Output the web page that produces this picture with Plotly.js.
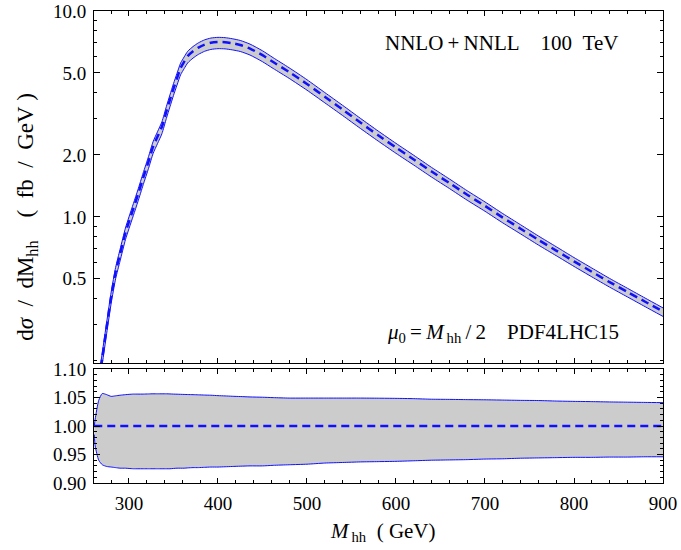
<!DOCTYPE html>
<html>
<head>
<meta charset="utf-8">
<script src="https://cdn.plot.ly/plotly-3.0.1.min.js"></script>
<style>html,body{margin:0;padding:0;background:#fff;}#chart{width:681px;height:550px;}</style>
</head>
<body>
<div id="chart"></div>
<script>
// Invariant mass grid (GeV)
const mhh = [261, 262, 266, 270, 275, 280, 285, 290, 296, 300, 305, 310, 316, 322, 327, 332, 337, 342, 346, 350, 354, 358, 362, 366, 372, 378, 385, 392, 400, 408, 416, 425, 436, 450, 462, 480, 500, 520, 540, 560, 580, 600, 620, 640, 660, 680, 700, 720, 740, 760, 780, 800, 820, 840, 860, 880, 900];
// Central NNLO+NNLL value dσ/dMhh (fb/GeV)
const central = [0.12, 0.13, 0.16, 0.207, 0.293, 0.41, 0.54, 0.66, 0.836, 0.947, 1.10, 1.28, 1.55, 1.86, 2.19, 2.45, 2.74, 3.25, 3.70, 4.20, 4.72, 5.29, 5.67, 6.04, 6.37, 6.64, 6.87, 7.01, 7.07, 7.05, 6.97, 6.84, 6.57, 6.10, 5.65, 5.05, 4.42, 3.83, 3.32, 2.87, 2.49, 2.17, 1.90, 1.66, 1.46, 1.28, 1.13, 0.992, 0.876, 0.773, 0.686, 0.608, 0.541, 0.482, 0.432, 0.387, 0.347];
// Scale-uncertainty band, as ratio to central
const ratioUp = [1.000, 1.012, 1.045, 1.057, 1.055, 1.052, 1.053, 1.054, 1.055, 1.0555, 1.056, 1.056, 1.056, 1.0563, 1.0565, 1.0565, 1.0565, 1.0565, 1.0563, 1.056, 1.0558, 1.0556, 1.0554, 1.0552, 1.055, 1.0547, 1.0543, 1.054, 1.0533, 1.0528, 1.0522, 1.0517, 1.051, 1.0505, 1.0498, 1.049, 1.049, 1.049, 1.049, 1.049, 1.0488, 1.0485, 1.048, 1.047, 1.0467, 1.0463, 1.046, 1.0455, 1.045, 1.0447, 1.0438, 1.0432, 1.0428, 1.0422, 1.0418, 1.0414, 1.041];
const ratioLo = [0.985, 0.965, 0.940, 0.932, 0.929, 0.928, 0.927, 0.926, 0.926, 0.9255, 0.925, 0.925, 0.925, 0.925, 0.925, 0.925, 0.925, 0.925, 0.925, 0.9255, 0.926, 0.926, 0.926, 0.9265, 0.927, 0.927, 0.9275, 0.928, 0.928, 0.9285, 0.929, 0.9295, 0.930, 0.930, 0.931, 0.932, 0.933, 0.935, 0.936, 0.937, 0.9375, 0.938, 0.939, 0.940, 0.9405, 0.941, 0.942, 0.9425, 0.9435, 0.944, 0.9445, 0.945, 0.945, 0.9455, 0.9455, 0.946, 0.946];
const ratioCentral = mhh.map(() => 1);

// Tick labels
const yTopTicks = [0.5, 1, 2, 5, 10];
const yTopLabels = ['0.5', '1.0', '2.0', '5.0', '10.0'];
const yTopMinor = [0.2, 0.3, 0.4, 0.6, 0.7, 0.8, 0.9, 3, 4, 6, 7, 8, 9];
const yBotTicks = [0.90, 0.95, 1.00, 1.05, 1.10];
const yBotLabels = ['0.90', '0.95', '1.00', '1.05', '1.10'];
const xTicks = [300, 400, 500, 600, 700, 800, 900];

const upperTop = central.map((v, i) => v * ratioUp[i]);
const lowerTop = central.map((v, i) => v * ratioLo[i]);

const blue = '#1010ff';
const fill = '#cccccc';
const FONT = 'Liberation Serif, Times New Roman, serif';
const SP = '\u00a0';
const TH = '\u2009';

const edge = {color: blue, width: 1, shape: 'spline', smoothing: 0.6};
const mid = {color: blue, width: 2.5, dash: '8px,5px', shape: 'spline', smoothing: 0.6};

const traces = [
  {x: mhh, y: lowerTop, xaxis: 'x', yaxis: 'y', mode: 'lines', line: edge, hoverinfo: 'skip'},
  {x: mhh, y: upperTop, xaxis: 'x', yaxis: 'y', mode: 'lines', fill: 'tonexty', fillcolor: fill, line: edge, hoverinfo: 'skip'},
  {x: mhh, y: central, xaxis: 'x', yaxis: 'y', mode: 'lines', line: mid},
  {x: mhh, y: ratioLo, xaxis: 'x2', yaxis: 'y2', mode: 'lines', line: edge, hoverinfo: 'skip'},
  {x: mhh, y: ratioUp, xaxis: 'x2', yaxis: 'y2', mode: 'lines', fill: 'tonexty', fillcolor: fill, line: edge, hoverinfo: 'skip'},
  {x: mhh, y: ratioCentral, xaxis: 'x2', yaxis: 'y2', mode: 'lines', line: {color: blue, width: 2.5, dash: '8px,5px'}}
];

const xCommon = {
  range: [260.7, 900], tickmode: 'array', tickvals: xTicks, ticks: 'inside', ticklen: 5, tickcolor: '#000',
  showline: true, linecolor: '#000', linewidth: 1, mirror: 'ticks', showgrid: false, zeroline: false,
  minor: {tickmode: 'linear', tick0: 260, dtick: 20, ticks: 'inside', ticklen: 3, tickcolor: '#000', showgrid: false},
  tickfont: {family: FONT, size: 19, color: '#000'}
};

const layout = {
  width: 681, height: 550,
  margin: {l: 94, r: 18, t: 11, b: 67},
  paper_bgcolor: '#fff', plot_bgcolor: '#fff',
  showlegend: false,
  font: {family: FONT, size: 19, color: '#000'},
  xaxis: Object.assign({}, xCommon, {anchor: 'y', showticklabels: false}),
  xaxis2: Object.assign({}, xCommon, {anchor: 'y2', showticklabels: true, ticklabelstandoff: 3}),
  yaxis: {
    domain: [0.2542, 1], type: 'log', range: [Math.log10(0.195), 1], anchor: 'x',
    tickmode: 'array', tickvals: yTopTicks, ticktext: yTopLabels, ticks: 'inside', ticklen: 6, tickcolor: '#000',
    showline: true, linecolor: '#000', linewidth: 1, mirror: 'ticks', showgrid: false, zeroline: false,
    minor: {tickmode: 'array', tickvals: yTopMinor, ticks: 'inside', ticklen: 3, tickcolor: '#000', showgrid: false},
    tickfont: {family: FONT, size: 19, color: '#000'}, ticklabelstandoff: 3
  },
  yaxis2: {
    domain: [0, 0.2415], range: [0.9, 1.1], anchor: 'x2',
    tickmode: 'array', tickvals: yBotTicks, ticktext: yBotLabels, ticks: 'inside', ticklen: 6, tickcolor: '#000',
    showline: true, linecolor: '#000', linewidth: 1, mirror: 'ticks', showgrid: false, zeroline: false,
    minor: {tickmode: 'linear', tick0: 0.9, dtick: 0.01, ticks: 'inside', ticklen: 3, tickcolor: '#000', showgrid: false},
    tickfont: {family: FONT, size: 19, color: '#000'}, ticklabelstandoff: 3
  },
  annotations: [
    {xref: 'paper', yref: 'paper', x: 0.717, y: 0.932, xanchor: 'center', yanchor: 'middle', showarrow: false,
     text: 'NNLO' + TH + '+' + TH + 'NNLL' + SP + SP + SP + SP + '100' + SP + SP + 'TeV', font: {family: FONT, size: 21, color: '#000'}},
    {xref: 'paper', yref: 'paper', x: 0.719, y: 0.318, xanchor: 'center', yanchor: 'middle', showarrow: false,
     text: '<i>μ</i><sub>0</sub>' + TH + '=' + TH + '<i>M</i><sub>' + TH + 'hh</sub>' + TH + '/' + TH + '2' + SP + SP + SP + SP + 'PDF4LHC15', font: {family: FONT, size: 21, color: '#000'}},
    {xref: 'paper', yref: 'paper', x: -0.118, y: 0.5636, xanchor: 'center', yanchor: 'middle', showarrow: false, textangle: -90,
     text: 'd<i>σ</i>' + SP + SP + '/' + SP + SP + 'dM<sub>hh</sub>' + SP + SP + SP + SP + '(' + SP + SP + 'fb' + SP + SP + '/' + SP + SP + 'GeV' + SP + ')', font: {family: FONT, size: 23, color: '#000'}},
    {xref: 'paper', yref: 'paper', x: 0.508, y: -0.104, xanchor: 'center', yanchor: 'middle', showarrow: false,
     text: '<i>M</i><sub>' + TH + 'hh</sub>' + SP + SP + '(' + SP + 'GeV)', font: {family: FONT, size: 21, color: '#000'}}
  ]
};

Plotly.newPlot('chart', traces, layout, {staticPlot: true, displayModeBar: false});
</script>
</body>
</html>
